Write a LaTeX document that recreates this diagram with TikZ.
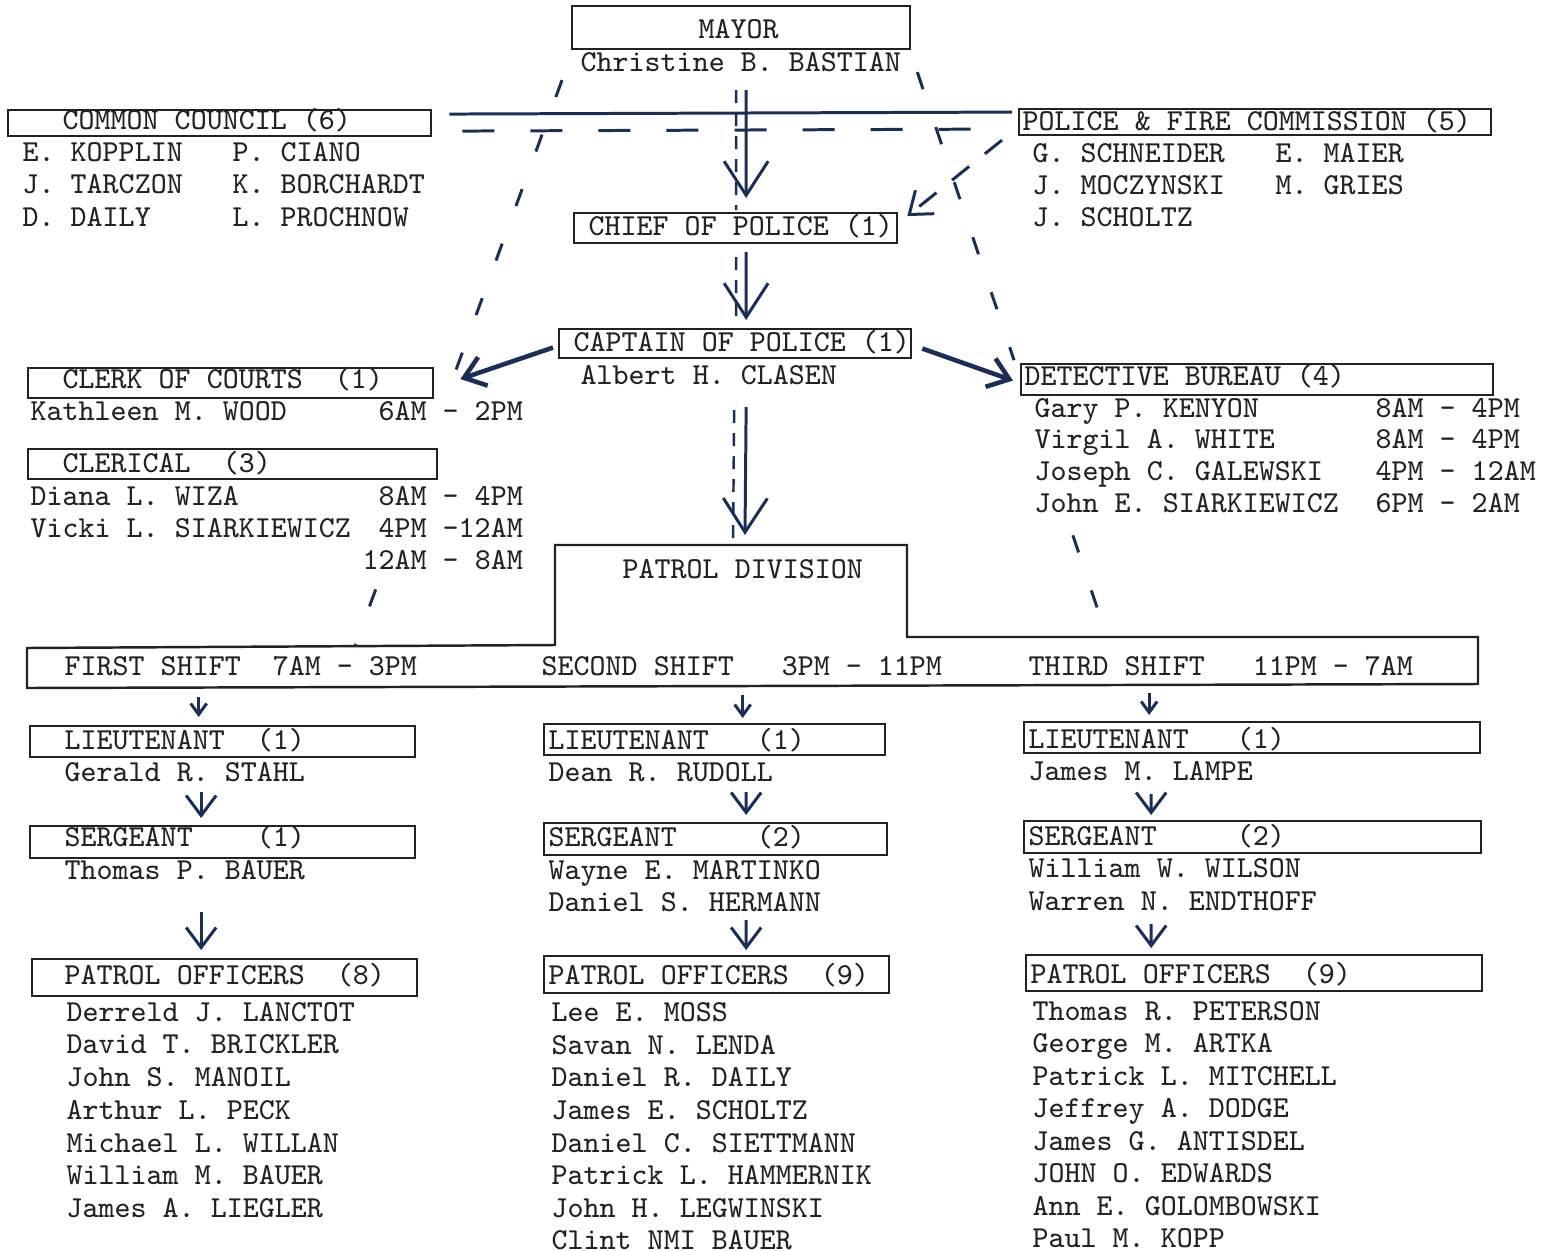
\documentclass[tikz,border=0pt]{standalone}
\usepackage{fontspec}
\usepackage{tikz}
\usetikzlibrary{calc,arrows.meta,positioning}
\definecolor{ink}{RGB}{26,46,88}
\definecolor{typed}{RGB}{34,34,34}
\newcommand{\typew}{\fontsize{8.67}{10}\selectfont\ttfamily}

\begin{document}
\begin{tikzpicture}[x=0.01cm,y=-0.01cm,
        every node/.style={inner sep=0pt,text=typed},
        txt/.style={anchor=base west,font=\typew},
        box/.style={draw=typed,line width=0.6pt,anchor=north west},
        link/.style={draw=ink,line width=0.85pt},
        vdash/.style={link,line width=0.7pt,dash pattern=on 0.13cm off 0.1cm},
        ldash/.style={link,dash pattern=on 0.18cm off 0.4cm},
        hdash/.style={link,dash pattern=on 0.32cm off 0.36cm},
        bigv/.style={-{Straight Barb[length=0.34cm,width=0.44cm]}},
        midv/.style={-{Straight Barb[length=0.2cm,width=0.3cm]}},
        smallv/.style={-{Straight Barb[length=0.11cm,width=0.16cm]}}]
    \useasboundingbox (0,0) rectangle (1541,1251);

    % boxes
    \node[box,minimum width=3.38cm,minimum height=0.43cm] (mayor) at (571,5) {};
    \node[box,minimum width=4.23cm,minimum height=0.26cm] (council) at (7,109) {};
    \node[box,minimum width=4.72cm,minimum height=0.26cm] (board) at (1018,108) {};
    \node[box,minimum width=3.23cm,minimum height=0.30cm] (chief) at (573,212) {};
    \node[box,minimum width=3.52cm,minimum height=0.29cm] (captain) at (558,328) {};
    \node[box,minimum width=4.05cm,minimum height=0.30cm] (clerk) at (27,367) {};
    \node[box,minimum width=4.09cm,minimum height=0.30cm] (clerical) at (27,448) {};
    \node[box,minimum width=4.72cm,minimum height=0.31cm] (detective) at (1020,363) {};
    \node[box,minimum width=3.85cm,minimum height=0.31cm] (lta) at (29,725) {};
    \node[box,minimum width=3.41cm,minimum height=0.31cm] (ltb) at (543,723) {};
    \node[box,minimum width=4.56cm,minimum height=0.31cm] (ltc) at (1023,721) {};
    \node[box,minimum width=3.85cm,minimum height=0.32cm] (sga) at (29,825) {};
    \node[box,minimum width=3.43cm,minimum height=0.32cm] (sgb) at (543,822) {};
    \node[box,minimum width=4.57cm,minimum height=0.32cm] (sgc) at (1023,820) {};
    \node[box,minimum width=3.85cm,minimum height=0.37cm] (poa) at (31,958) {};
    \node[box,minimum width=3.45cm,minimum height=0.37cm] (pob) at (543,955) {};
    \node[box,minimum width=4.56cm,minimum height=0.36cm] (poc) at (1025,954) {};

    % patrol division
    \draw[typed,line width=0.7pt] (27,648) -- (555,645) -- (555,545) -- (907,545) -- (907,637)
        -- (1478,637) -- (1478,684) -- (27,688) -- cycle;
    \coordinate (division) at (731,545);
    \coordinate (divleft) at (355,646);
    \coordinate (divright) at (1107,637);

    % titles and names
    \node[txt] (mayort) at (698,38) {MAYOR};
    \node[txt] (mayorn) at (580,71) {Christine B. BASTIAN};
    \node[txt] (councilt) at (62,129) {COMMON COUNCIL (6)};
    \node[txt] (ca1) at (22,161) {E. KOPPLIN};
    \node[txt] (ca2) at (22,193) {J. TARCZON};
    \node[txt] (ca3) at (22,226) {D. DAILY};
    \node[txt] (cb1) at (232,161) {P. CIANO};
    \node[txt] (cb2) at (232,193) {K. BORCHARDT};
    \node[txt] (cb3) at (232,226) {L. PROCHNOW};
    \node[txt] (boardt) at (1022,130) {POLICE \& FIRE COMMISSION (5)};
    \node[txt] (ba1) at (1032,162) {G. SCHNEIDER};
    \node[txt] (ba2) at (1032,194) {J. MOCZYNSKI};
    \node[txt] (ba3) at (1032,226) {J. SCHOLTZ};
    \node[txt] (bb1) at (1275,162) {E. MAIER};
    \node[txt] (bb2) at (1275,194) {M. GRIES};
    \node[txt] (chieft) at (588,235) {CHIEF OF POLICE (1)};
    \node[txt] (captaint) at (573,351) {CAPTAIN OF POLICE (1)};
    \node[txt] (captainn) at (580,384) {Albert H. CLASEN};
    \node[txt] (clerkt) at (62,388) {CLERK OF COURTS\ \ (1)};
    \node[txt] (clerkn) at (30,420) {Kathleen M. WOOD};
    \node[txt] (clerkh) at (378,420) {6AM - 2PM};
    \node[txt] (clericalt) at (62,472) {CLERICAL\ \ (3)};
    \node[txt] (cl1) at (30,505) {Diana L. WIZA};
    \node[txt] (cl2) at (30,537) {Vicki L. SIARKIEWICZ};
    \node[txt] (clh1) at (378,505) {8AM - 4PM};
    \node[txt] (clh2) at (378,537) {4PM -12AM};
    \node[txt] (clh3) at (362,569) {12AM - 8AM};
    \node[txt] (detectivet) at (1024,385) {DETECTIVE BUREAU (4)};
    \node[txt] (de1) at (1034,417) {Gary P. KENYON};
    \node[txt] (de2) at (1034,448) {Virgil A. WHITE};
    \node[txt] (de3) at (1034,480) {Joseph C. GALEWSKI};
    \node[txt] (de4) at (1034,512) {John E. SIARKIEWICZ};
    \node[txt] (deh1) at (1375,417) {8AM - 4PM};
    \node[txt] (deh2) at (1375,448) {8AM - 4PM};
    \node[txt] (deh3) at (1375,480) {4PM - 12AM};
    \node[txt] (deh4) at (1375,512) {6PM - 2AM};
    \node[txt] (divisiont) at (622,578) {PATROL DIVISION};
    \node[txt] (shifta) at (64,675) {FIRST SHIFT\ \ 7AM - 3PM};
    \node[txt] (shiftb) at (541,675) {SECOND SHIFT\ \ \ 3PM - 11PM};
    \node[txt] (shiftc) at (1028,675) {THIRD SHIFT\ \ \ 11PM - 7AM};

    \node[txt] (ltat) at (64,749) {LIEUTENANT\ \ (1)};
    \node[txt] (ltan) at (64,781) {Gerald R. STAHL};
    \node[txt] (ltbt) at (548,749) {LIEUTENANT\ \ \ (1)};
    \node[txt] (ltbn) at (548,781) {Dean R. RUDOLL};
    \node[txt] (ltct) at (1028,748) {LIEUTENANT\ \ \ (1)};
    \node[txt] (ltcn) at (1028,780) {James M. LAMPE};
    \node[txt] (sgat) at (64,846) {SERGEANT\ \ \ \ (1)};
    \node[txt] (sgan) at (64,879) {Thomas P. BAUER};
    \node[txt] (sgbt) at (548,846) {SERGEANT\ \ \ \ \ (2)};
    \node[txt] (sgb1) at (548,879) {Wayne E. MARTINKO};
    \node[txt] (sgb2) at (548,911) {Daniel S. HERMANN};
    \node[txt] (sgct) at (1028,845) {SERGEANT\ \ \ \ \ (2)};
    \node[txt] (sgc1) at (1028,877) {William W. WILSON};
    \node[txt] (sgc2) at (1028,910) {Warren N. ENDTHOFF};

    \node[txt] (poat) at (64,984) {PATROL OFFICERS\ \ (8)};
    \node[txt] (pa1) at (66,1021) {Derreld J. LANCTOT};
    \node[txt] (pa2) at (66,1053) {David T. BRICKLER};
    \node[txt] (pa3) at (66,1086) {John S. MANOIL};
    \node[txt] (pa4) at (66,1119) {Arthur L. PECK};
    \node[txt] (pa5) at (66,1152) {Michael L. WILLAN};
    \node[txt] (pa6) at (66,1184) {William M. BAUER};
    \node[txt] (pa7) at (66,1217) {James A. LIEGLER};
    \node[txt] (pobt) at (548,984) {PATROL OFFICERS\ \ (9)};
    \node[txt] (pb1) at (551,1021) {Lee E. MOSS};
    \node[txt] (pb2) at (551,1054) {Savan N. LENDA};
    \node[txt] (pb3) at (551,1086) {Daniel R. DAILY};
    \node[txt] (pb4) at (551,1119) {James E. SCHOLTZ};
    \node[txt] (pb5) at (551,1152) {Daniel C. SIETTMANN};
    \node[txt] (pb6) at (551,1184) {Patrick L. HAMMERNIK};
    \node[txt] (pb7) at (551,1217) {John H. LEGWINSKI};
    \node[txt] (pb8) at (551,1249) {Clint NMI BAUER};
    \node[txt] (poct) at (1030,983) {PATROL OFFICERS\ \ (9)};
    \node[txt] (pc1) at (1032,1020) {Thomas R. PETERSON};
    \node[txt] (pc2) at (1032,1052) {George M. ARTKA};
    \node[txt] (pc3) at (1032,1085) {Patrick L. MITCHELL};
    \node[txt] (pc4) at (1032,1117) {Jeffrey A. DODGE};
    \node[txt] (pc5) at (1032,1150) {James G. ANTISDEL};
    \node[txt] (pc6) at (1032,1182) {JOHN O. EDWARDS};
    \node[txt] (pc7) at (1032,1215) {Ann E. GOLOMBOWSKI};
    \node[txt] (pc8) at (1032,1247) {Paul M. KOPP};

    % top links
    \draw[link,bigv] ($(mayor.south)+(5,40)$) -- ($(chief.north)+(10.5,-14)$);
    \draw[vdash] ($(mayor.south)+(-5,40)$) -- ($(chief.north)+(0.5,-2)$);
    \draw[link] ($(council.east)+(17,-9)$) -- ($(board.west)+(-6,-10)$);
    \draw[hdash] ($(council.east)+(30,8)$) -- ($(board.west)+(-18,7)$);
    \draw[link,dash pattern=on 0.22cm off 0.2cm,midv] ($(board.south west)+(-16,4)$) -- ($(chief.east)+(9,-12)$);
    \coordinate (mleft) at ($(mayor.south west)+(-9,30)$);
    \coordinate (mright) at ($(mayor.south east)+(6,22)$);
    \draw[ldash] (mleft) -- ($(mleft)!0.54!(divleft)$);
    \draw[ldash] ($(mleft)!0.9!(divleft)$) -- (divleft);
    \draw[ldash] (mright) -- ($(mright)!0.51!(divright)$);
    \draw[ldash] ($(mright)!0.82!(divright)$) -- (divright);

    % chief, captain
    \draw[link,bigv] ($(chief.south)+(10.5,8)$) -- ($(captain.north)+(11,-8)$);
    \draw[vdash] ($(chief.south)+(0.5,13)$) -- ($(captain.north)+(1,-8)$);
    \draw[link,line width=1.3pt,midv] ($(captain.west)+(-5,4)$) -- ($(clerk.east)+(26,-4)$);
    \draw[link,line width=1.3pt,midv] ($(captain.east)+(10,5)$) -- ($(detective.west)+(-7,1)$);
    \draw[link,bigv] ($(captain.south)+(11,48)$) -- ($(division)+(14,-10)$);
    \draw[vdash] ($(captain.south)+(-1,51)$) -- ($(division)+(2,0)$);

    % shifts
    \draw[link,smallv] ($(lta.north)+(-24,-28)$) -- ($(lta.north)+(-24,-8)$);
    \draw[link,smallv] ($(ltb.north)+(28,-28)$) -- ($(ltb.north)+(28,-5)$);
    \draw[link,smallv] ($(ltc.north)+(-103,-28)$) -- ($(ltc.north)+(-103,-6)$);
    \draw[link,midv] ($(lta.south)+(-21.5,34)$) -- ($(sga.north)+(-21.5,-7)$);
    \draw[link,midv] ($(ltb.south)+(31.5,36)$) -- ($(sgb.north)+(30.5,-7)$);
    \draw[link,midv] ($(ltc.south)+(-101,40)$) -- ($(sgc.north)+(-101.5,-5)$);
    \draw[link,midv] ($(sga.south)+(-21.5,53)$) -- ($(poa.north)+(-23.5,-8)$);
    \draw[link,midv] ($(sgb.south)+(30.5,64)$) -- ($(pob.north)+(29.5,-5)$);
    \draw[link,midv] ($(sgc.south)+(-101.5,70)$) -- ($(poc.north)+(-103,-6)$);
\end{tikzpicture}
\end{document}
